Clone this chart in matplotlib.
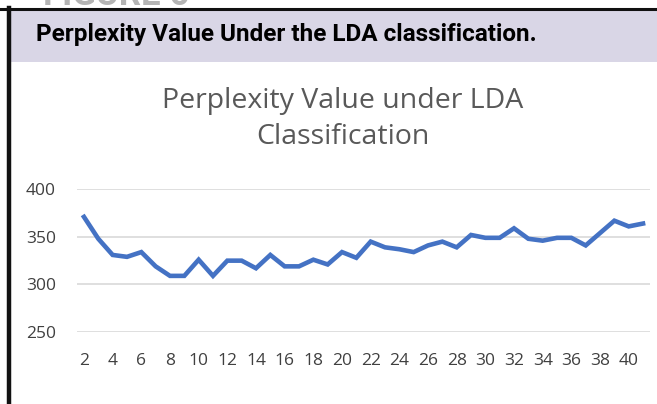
import matplotlib
matplotlib.use("Agg")
import matplotlib.pyplot as plt
from matplotlib.patches import Rectangle
from matplotlib.lines import Line2D

# topic counts and perplexity values
topics = list(range(2, 42))
perplexity = [371, 348, 331, 329, 334, 319, 309, 309, 326, 309,
              325, 325, 317, 331, 319, 319, 326, 321, 334, 328,
              345, 339, 337, 334, 341, 345, 339, 352, 349, 349,
              359, 348, 346, 349, 349, 341, 354, 367, 361, 364]
yticks = [250, 300, 350, 400]
xticks = list(range(2, 41, 2))

W, H = 657, 404
head = 'Roboto'
body = 'Open Sans'

fig = plt.figure(figsize=(W / 100, H / 100), dpi=100)


def px(x, y):
    return x / W, 1 - y / H


# clipped "FIGURE 6" heading above the frame
fig.text(*px(43, 5), 'FIGURE 6', color='#b4b4b4', fontsize=25, fontweight='bold',
         family=head, ha='left', va='baseline')

# header band and frame
x0, y0 = px(11, 62)
fig.patches.append(Rectangle((x0, y0), 1 - x0, (62 - 10) / H, transform=fig.transFigure,
                             facecolor='#d9d6e6', edgecolor='none', zorder=0))
fig.lines.append(Line2D([0.0, 1.0], [1 - 9 / H] * 2, transform=fig.transFigure,
                        color='#111111', lw=2.2))
fig.lines.append(Line2D([9 / W] * 2, [0, 1 - 8 / H], transform=fig.transFigure,
                        color='#111111', lw=3.2))
fig.text(*px(36, 35), 'Perplexity Value Under the LDA classification.', family=head,
         fontweight='bold', fontsize=17.5, color='black', ha='left', va='center')

# chart title
fig.text(*px(343, 101), 'Perplexity Value under LDA', family=body, fontsize=20.5,
         color='#595959', ha='center', va='center')
fig.text(*px(343, 137), 'Classification', family=body, fontsize=20.5,
         color='#595959', ha='center', va='center')

left, top, right, bottom = 76.8, 189.3, 650.2, 332.0
ax = fig.add_axes([left / W, 1 - bottom / H, (right - left) / W, (bottom - top) / H])
ax.plot(topics, perplexity, color='#4472c4', lw=3.3, solid_joinstyle='miter', zorder=3)
ax.set_xlim(1.5, 41.5)
ax.set_ylim(250, 400)
ax.set_yticks(yticks)
ax.set_xticks(xticks)
ax.grid(axis='y', color='#d9d9d9', lw=1.2)
ax.set_axisbelow(True)
for s in ax.spines.values():
    s.set_visible(False)
ax.tick_params(length=0, labelsize=12.5, labelcolor='#404040')
ax.tick_params(axis='y', pad=15)
ax.tick_params(axis='x', pad=15)
for lab in ax.get_xticklabels() + ax.get_yticklabels():
    lab.set_family(body)
ax.set_facecolor('none')

fig.savefig('out.png', dpi=100)
